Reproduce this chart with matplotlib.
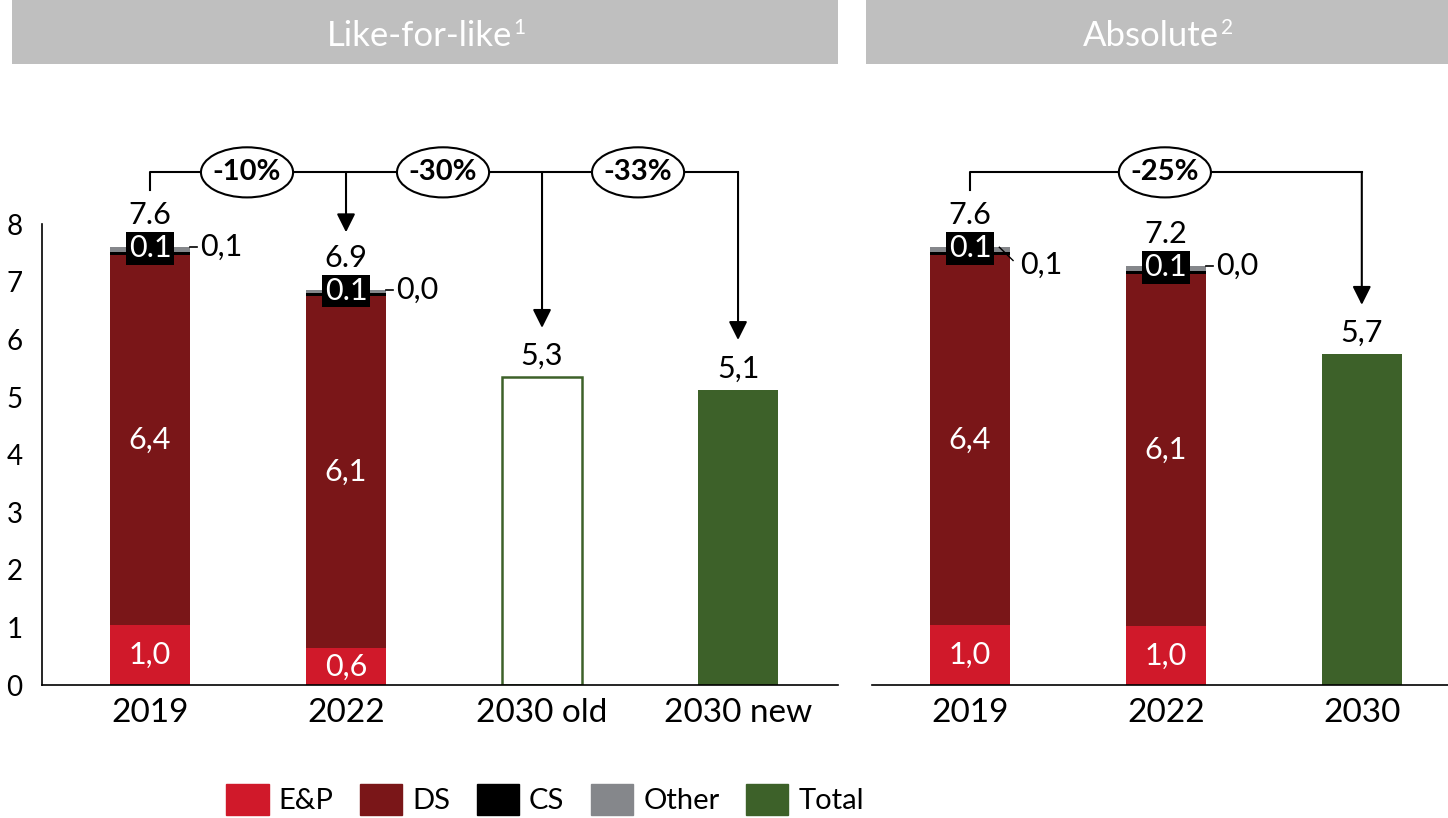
import matplotlib.pyplot as plt
from matplotlib.patches import Rectangle, Ellipse, Patch

plt.rcParams['font.family'] = ['Lato', 'DejaVu Sans']

# данные
cats_lfl = ['2019', '2022', '2030 old', '2030 new']
ep_lfl = [1.04, 0.64]
ds_lfl = [6.43, 6.12]
cs_lfl = [0.05, 0.04]
oth_lfl = [0.08, 0.06]
ep_lfl_lab = ['1,0', '0,6']
ds_lfl_lab = ['6,4', '6,1']
cs_lfl_lab = ['0.1', '0.1']
oth_lfl_lab = ['0,1', '0,0']
tot_lfl_lab = ['7.6', '6.9']
target_lfl = [5.35, 5.13]
target_lfl_lab = ['5,3', '5,1']
pct_lfl = ['-10%', '-30%', '-33%']

cats_abs = ['2019', '2022', '2030']
ep_abs = [1.04, 1.02]
ds_abs = [6.43, 6.12]
cs_abs = [0.05, 0.05]
oth_abs = [0.08, 0.08]
ep_abs_lab = ['1,0', '1,0']
ds_abs_lab = ['6,4', '6,1']
cs_abs_lab = ['0.1', '0.1']
oth_abs_lab = ['0,1', '0,0']
tot_abs_lab = ['7.6', '7.2']
target_abs = [5.75]
target_abs_lab = ['5,7']
pct_abs = ['-25%']

C_EP, C_DS, C_CS, C_OTH, C_TOT = '#d0192a', '#7a1618', '#000000', '#85878b', '#3d6129'
BW = 0.41
FS = 22

W, H = 1448, 818
fig = plt.figure(figsize=(W/100, H/100), dpi=100)

# серые плашки заголовков
for x0, x1, t, sup in [(12, 838, 'Like-for-like', '1'), (866, 1448, 'Absolute', '2')]:
    fig.patches.append(Rectangle((x0/W, 1-64/H), (x1-x0)/W, 64/H, transform=fig.transFigure,
                                 facecolor='#bfbfbf', edgecolor='none'))
    txt = fig.text((x0+x1)/2/W - 0.004, 1-36/H, t, color='white', fontsize=25,
                   ha='center', va='center')
    fig.canvas.draw()
    bb = txt.get_window_extent()
    fig.text(bb.x1/W + 0.001, bb.y1/H + 0.002, sup, color='white', fontsize=15,
             ha='left', va='top')

ax1 = fig.add_axes([42/W, 1-685/H, 796/W, 576/H])
ax2 = fig.add_axes([872/W, 1-685/H, 576/W, 576/H])
ax1.set_xlim(-0.551, 3.51)
ax2.set_xlim(-0.5, 2.44)


def stacked(ax, ep, ds, cs, oth, ep_lab, ds_lab, cs_lab, oth_lab, tot_lab, diag):
    x = list(range(len(ep)))
    b1 = [e + d for e, d in zip(ep, ds)]
    b2 = [a + c for a, c in zip(b1, cs)]
    ax.bar(x, ep, BW, color=C_EP)
    ax.bar(x, ds, BW, bottom=ep, color=C_DS)
    ax.bar(x, cs, BW, bottom=b1, color=C_CS)
    ax.bar(x, oth, BW, bottom=b2, color=C_OTH)
    for i in x:
        top = b2[i] + oth[i]
        ax.text(i, ep[i]/2, ep_lab[i], color='white', fontsize=FS, ha='center', va='center')
        ax.text(i, ep[i] + ds[i]/2, ds_lab[i], color='white', fontsize=FS, ha='center', va='center')
        ax.text(i, top - 0.02, cs_lab[i], color='white', fontsize=FS, ha='center', va='center',
                bbox=dict(boxstyle='square,pad=0.08', fc='black', ec='none'))
        ax.annotate(tot_lab[i], (i, top), xytext=(0, 23), textcoords='offset points',
                    fontsize=FS, ha='center', va='center')
        # подпись "Other" сбоку с выноской
        if diag and i == 0:
            ax.plot([i + 0.15, i + 0.22], [top, top - 0.23], color='black', lw=1)
            ax.text(i + 0.255, top - 0.3, oth_lab[i], fontsize=FS, va='center')
        else:
            ax.plot([i + BW/2, i + 0.24], [top, top], color='black', lw=1.2)
            ax.text(i + 0.255, top, oth_lab[i], fontsize=FS, va='center')
    return x


stacked(ax1, ep_lfl, ds_lfl, cs_lfl, oth_lfl, ep_lfl_lab, ds_lfl_lab, cs_lfl_lab,
        oth_lfl_lab, tot_lfl_lab, False)
stacked(ax2, ep_abs, ds_abs, cs_abs, oth_abs, ep_abs_lab, ds_abs_lab, cs_abs_lab,
        oth_abs_lab, tot_abs_lab, True)

# 2030 bars
ax1.bar(2, target_lfl[0], BW, facecolor='white', edgecolor=C_TOT, lw=1.8)
ax1.bar(3, target_lfl[1], BW, color=C_TOT)
ax2.bar(2, target_abs[0], BW, color=C_TOT)
for ax, xs, vals, labs in [(ax1, [2, 3], target_lfl, target_lfl_lab), (ax2, [2], target_abs, target_abs_lab)]:
    for i, v, l in zip(xs, vals, labs):
        ax.annotate(l, (i, v), xytext=(0, 15), textcoords='offset points',
                    fontsize=FS, ha='center', va='center')

# скобки со стрелками
YB = 8.9


def bracket(ax, x0, x_end, arrows, pcts):
    ax.plot([x0, x0, x_end], [8.59, YB, YB], color='black', lw=1.5, clip_on=False)
    for xa, tip in arrows:
        ax.annotate('', xy=(xa, tip), xytext=(xa, YB),
                    arrowprops=dict(arrowstyle='-|>', color='black', lw=1.5,
                                    mutation_scale=28, shrinkA=0, shrinkB=0))
    for xp, t in pcts:
        ax.add_patch(Ellipse((xp, YB), 0.47, 0.87, facecolor='white', edgecolor='black',
                             lw=1.5, clip_on=False, zorder=3))
        ax.text(xp, YB, t, fontsize=21, fontweight='bold', ha='center', va='center', zorder=4)


bracket(ax1, 0, 3, [(1, 7.86), (2, 6.2), (3, 5.99)],
        [(0.495, pct_lfl[0]), (1.495, pct_lfl[1]), (2.49, pct_lfl[2])])
bracket(ax2, 0, 2, [(2, 6.6)], [(0.995, pct_abs[0])])

for ax, cats in [(ax1, cats_lfl), (ax2, cats_abs)]:
    ax.set_ylim(0, 10)
    ax.set_xticks(range(len(cats)))
    ax.set_xticklabels(cats, fontsize=24)
    ax.tick_params(axis='x', length=0, pad=9)
    for s in ['top', 'right']:
        ax.spines[s].set_visible(False)
    ax.spines['bottom'].set_linewidth(1.2)

ax1.set_yticks(range(9))
ax1.tick_params(axis='y', labelsize=20, length=0, pad=14)
ax1.spines['left'].set_bounds(0, 8)
ax1.spines['left'].set_linewidth(1.2)
ax2.spines['left'].set_visible(False)
ax2.set_yticks([])

handles = [Patch(color=c) for c in [C_EP, C_DS, C_CS, C_OTH, C_TOT]]
fig.legend(handles, ['E&P', 'DS', 'CS', 'Other', 'Total'], loc='lower center',
           bbox_to_anchor=(545/W, -0.028), ncol=5, frameon=False, fontsize=21,
           handlelength=1.45, handleheight=1.25, handletextpad=0.35, columnspacing=0.9)

fig.savefig('out.png', dpi=100)
